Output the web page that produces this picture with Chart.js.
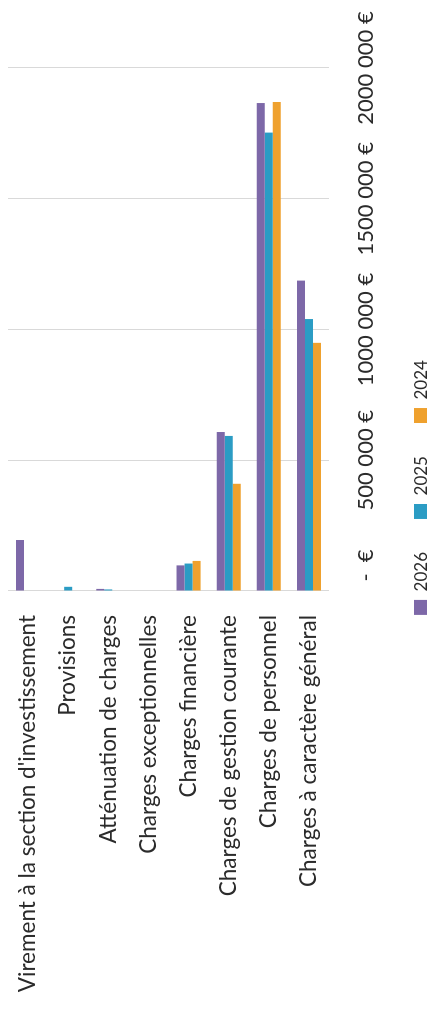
<!DOCTYPE html>
<html>
<head>
<meta charset="utf-8">
<script src="https://cdn.jsdelivr.net/npm/chart.js@4"></script>
<style>
  html, body { margin: 0; padding: 0; background: #fff; overflow: hidden; }
  /* le graphique est dessiné à l'horizontale puis tourné d'un quart de tour */
  #wrap {
    position: absolute; left: 0; top: 0;
    width: 1023px; height: 427px;
    transform-origin: top left;
    transform: translateY(1023px) rotate(-90deg);
  }
</style>
</head>
<body>
<div id="wrap"><canvas id="chart" width="1023" height="427"></canvas></div>
<script>
// Postes de charges
const categories = [
  "Virement à la section d'investissement",
  'Provisions',
  'Atténuation de charges',
  'Charges exceptionnelles',
  'Charges financière',
  'Charges de gestion courante',
  'Charges de personnel',
  'Charges à caractère général'
];

// Montants par année (€)
const values2026 = [195000, 0, 8000, 0, 98000, 608000, 1866000, 1187000];
const values2025 = [0, 16000, 6000, 0, 105000, 593000, 1753000, 1040000];
const values2024 = [0, 0, 0, 0, 115000, 410000, 1870000, 949000];

// Libellés de l'axe des montants (format comptable Excel, le zéro est décalé)
const tickLabels = ['\u2007\u2007\u2007\u2007-  €', '500 000 €', '1000 000 €', '1500 000 €', '2000 000 €'];

const textColor = '#2b2b2b';

// décale la légende comme dans Excel
const legendShift = {
  id: 'legendShift',
  afterLayout(chart) {
    chart.legend.left += 58;
    chart.legend.right += 58;
  }
};

new Chart(document.getElementById('chart'), {
  type: 'bar',
  data: {
    labels: categories,
    datasets: [
      { label: '2026', data: values2026, backgroundColor: '#7d68a8' },
      { label: '2025', data: values2025, backgroundColor: '#2b9cc4' },
      { label: '2024', data: values2024, backgroundColor: '#efa12e' }
    ]
  },
  options: {
    indexAxis: 'y',
    responsive: false,
    animation: false,
    datasets: { bar: { categoryPercentage: 0.6, barPercentage: 1 } },
    layout: { padding: { top: 8, right: 68, left: 0, bottom: 0 } },
    plugins: {
      tooltip: { enabled: false },
      legend: {
        position: 'bottom',
        maxHeight: 47,
        labels: {
          boxWidth: 15, boxHeight: 15, padding: 33,
          font: { family: 'Lato', size: 17 }, color: textColor
        }
      }
    },
    scales: {
      x: {
        min: 0,
        max: 2000000,
        border: { display: false },
        grid: { color: '#d9d9d9', drawTicks: false },
        ticks: {
          stepSize: 500000,
          padding: 24,
          maxRotation: 0,
          font: { family: 'Lato', size: 22 },
          color: textColor,
          callback: (v) => tickLabels[Math.round(v / 500000)]
        },
        afterFit: (s) => { s.height = 51; s.paddingLeft = 0; s.paddingRight = 0; }
      },
      y: {
        border: { display: false },
        grid: { display: false, drawTicks: false },
        ticks: { padding: 24, font: { family: 'Lato', size: 22.5 }, color: textColor, autoSkip: false },
        afterFit: (s) => { s.width = 432; s.paddingTop = 0; s.paddingBottom = 0; }
      }
    }
  },
  plugins: [legendShift]
});
</script>
</body>
</html>
